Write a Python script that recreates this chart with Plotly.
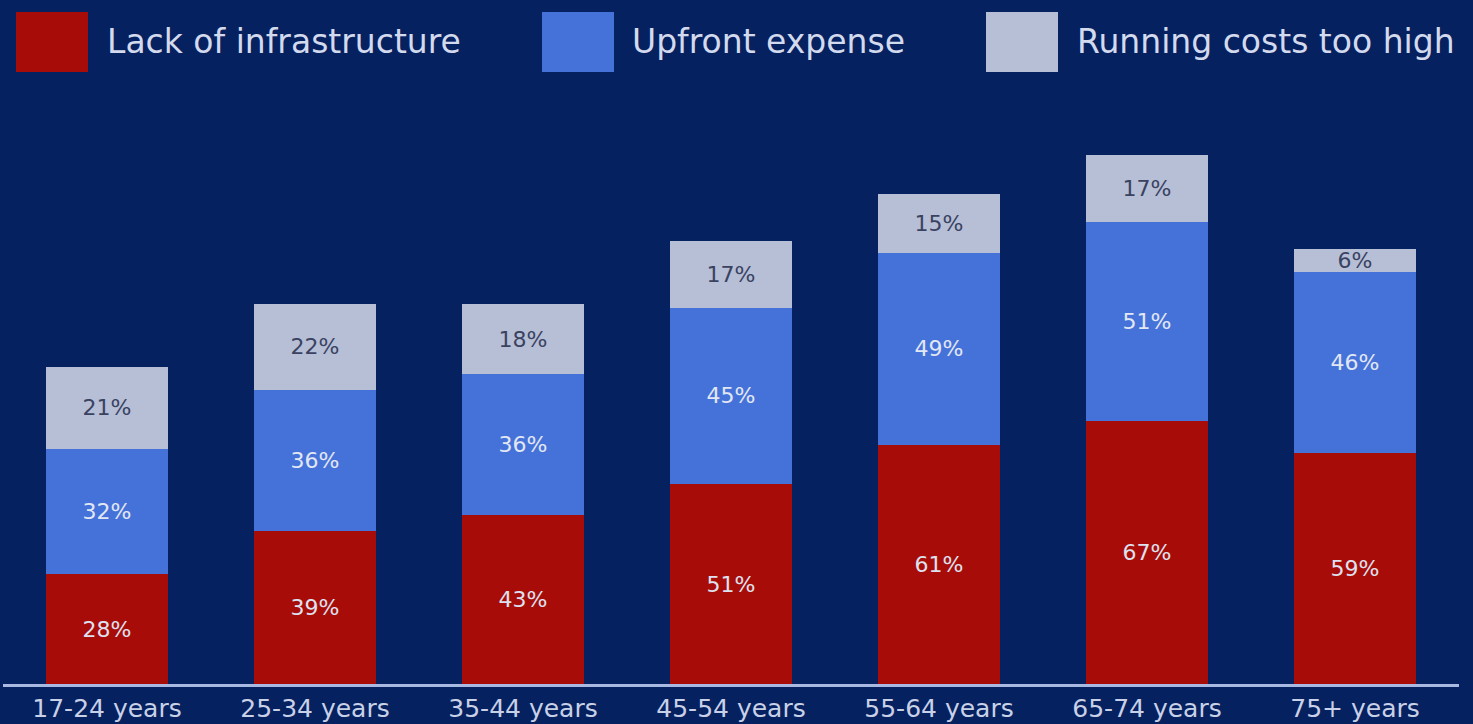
import plotly.graph_objects as go

age_groups = ["17-24 years", "25-34 years", "35-44 years", "45-54 years",
              "55-64 years", "65-74 years", "75+ years"]
series_names = ["Lack of infrastructure", "Upfront expense", "Running costs too high"]
lack_of_infrastructure = [28, 39, 43, 51, 61, 67, 59]
upfront_expense = [32, 36, 36, 45, 49, 51, 46]
running_costs = [21, 22, 18, 17, 15, 17, 6]

BG = "#06215f"
COLORS = ["#a80c08", "#4572d9", "#b7bfd6"]
TEXT_COLORS = ["#dde2f0", "#e2e7f4", "#3a4262"]
FONT = "DejaVu Sans"

fig = go.Figure()
for name, vals, col, tcol in zip(series_names,
                                 [lack_of_infrastructure, upfront_expense, running_costs],
                                 COLORS, TEXT_COLORS):
    fig.add_trace(go.Bar(
        x=age_groups, y=vals, name=name,
        marker=dict(color=col, line=dict(width=0)),
        text=[f"{v}%" for v in vals],
        textposition="inside", insidetextanchor="middle",
        constraintext="none",
        textfont=dict(family=FONT, size=22, color=tcol),
        showlegend=False,
    ))

# Legend drawn as swatches + labels across the top
legend_items = [(16, 105), (542, 630), (986, 1075)]
W, H = 1473, 724
for (sx, tx), name, col in zip(legend_items, series_names, COLORS):
    fig.add_shape(type="rect", xref="paper", yref="paper",
                  x0=(sx - 3) / 1456, x1=(sx + 72 - 3) / 1456,
                  y0=(684 - 72) / 584, y1=(684 - 12) / 584,
                  fillcolor=col, line=dict(width=0))
    fig.add_annotation(xref="paper", yref="paper",
                       x=(tx - 3) / 1456, y=(684 - 42) / 584,
                       xanchor="left", yanchor="middle", showarrow=False,
                       text=name, font=dict(family=FONT, size=33, color="#d3daee"))

fig.update_layout(
    width=W, height=H,
    paper_bgcolor=BG, plot_bgcolor=BG,
    barmode="stack", bargap=0.41,
    margin=dict(l=3, r=14, t=100, b=40),
    xaxis=dict(showgrid=False, showline=True, linecolor="#a9b9e2", linewidth=3,
               ticks="", tickfont=dict(family=FONT, size=25, color="#c9d1e8"),
               range=[-0.5, 6.5], automargin=False),
    yaxis=dict(visible=False, range=[0, 149], showgrid=False, zeroline=False),
)

fig.write_html("out.html")
